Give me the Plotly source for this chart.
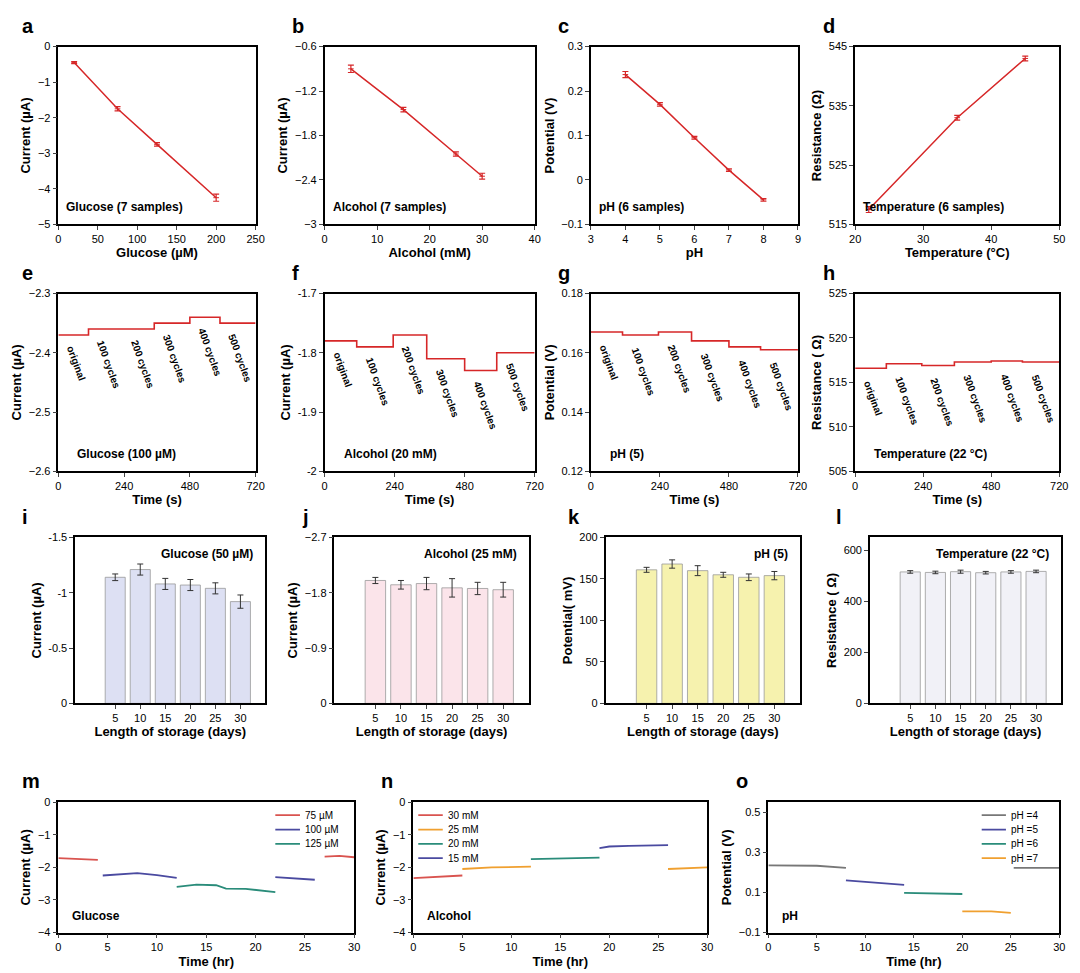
import plotly.graph_objects as go

W, H = 1080, 973
FONT = "Liberation Sans"
RED = "#d62728"

# Row 1 calibration
glu_x = [20, 75, 125, 200]; glu_y = [-0.45, -1.75, -2.75, -4.25]; glu_e = [0.03, 0.06, 0.05, 0.1]
alc_x = [5, 15, 25, 30]; alc_y = [-0.9, -1.45, -2.05, -2.35]; alc_e = [0.05, 0.03, 0.03, 0.04]
ph_x = [4, 5, 6, 7, 8]; ph_y = [0.237, 0.17, 0.095, 0.022, -0.045]; ph_e = [0.007, 0.004, 0.003, 0.003, 0.003]
tmp_x = [22, 35, 45]; tmp_y = [517.5, 533, 543]; tmp_e = [0.5, 0.4, 0.4]

# Row 2 cycling
cyc_labels = ["original", "100 cycles", "200 cycles", "300 cycles", "400 cycles", "500 cycles"]
cyc_t = [0, 110, 235, 350, 480, 590, 720]
cyc_glu = [-2.37, -2.36, -2.36, -2.35, -2.34, -2.35]
cyc_alc = [-1.78, -1.79, -1.77, -1.81, -1.83, -1.80]
cyc_ph = [0.167, 0.166, 0.167, 0.164, 0.162, 0.161]
cyc_tmp = [516.6, 517.1, 516.9, 517.3, 517.4, 517.3]

# Row 3 storage
days = [5, 10, 15, 20, 25, 30]
st_glu = [-1.14, -1.21, -1.08, -1.07, -1.04, -0.92]; st_glu_e = [0.03, 0.05, 0.05, 0.05, 0.05, 0.06]
st_alc = [-2.0, -1.93, -1.95, -1.88, -1.87, -1.85]; st_alc_e = [0.05, 0.07, 0.1, 0.15, 0.1, 0.12]
st_ph = [161, 168, 160, 155, 152, 154]; st_ph_e = [3, 5, 6, 3, 4, 5]
st_tmp = [515, 513, 516, 512, 515, 517]; st_tmp_e = [5, 5, 6, 5, 5, 5]

# Row 4 continuous
m_series = [
    ("75 µM", "#d9534f", [[0, 2, 4], [27, 28.5, 30]], [[-1.72, -1.74, -1.77], [-1.67, -1.65, -1.69]]),
    ("100 µM", "#4a4aa0", [[4.5, 6, 8, 10, 12], [22, 24, 26]], [[-2.25, -2.22, -2.18, -2.24, -2.32], [-2.3, -2.35, -2.38]]),
    ("125 µM", "#2a8c7a", [[12, 14, 16, 17, 19, 22], []], [[-2.6, -2.53, -2.55, -2.65, -2.66, -2.76], []]),
]
n_series = [
    ("30 mM", "#d9534f", [[0, 2.5, 5]], [[-2.33, -2.29, -2.25]]),
    ("25 mM", "#f0a030", [[5, 8, 12], [26, 28, 30]], [[-2.05, -2.0, -1.98], [-2.05, -2.02, -2.0]]),
    ("20 mM", "#2a8c7a", [[12, 15, 19]], [[-1.75, -1.73, -1.7]]),
    ("15 mM", "#4a4aa0", [[19, 20, 22, 26]], [[-1.41, -1.36, -1.34, -1.32]]),
]
o_series = [
    ("pH =4", "#777777", [[0, 5, 8], [25.3, 30]], [[0.235, 0.233, 0.222], [0.222, 0.222]]),
    ("pH =5", "#4a4aa0", [[8, 11, 14]], [[0.16, 0.148, 0.138]]),
    ("pH =6", "#2a8c7a", [[14, 17, 20]], [[0.098, 0.095, 0.092]]),
    ("pH =7", "#f0a030", [[20, 23, 25]], [[0.005, 0.005, -0.002]]),
]

fig = go.Figure()
layout = {}
ann = []
idx = [0]

def px_dom(x0, x1, y0, y1):
    return [x0 / W, x1 / W], [1 - y1 / H, 1 - y0 / H]

def add_axes(box, xr, xt, yr, yt, xtitle, ytitle, letter, xtext=None, ytext=None, lx=None):
    idx[0] += 1
    n = idx[0]
    xd, yd = px_dom(*box)
    common = dict(showline=True, linecolor="black", linewidth=1.5, mirror=True, ticks="outside",
                  ticklen=4, tickwidth=1.2, showgrid=False, zeroline=False,
                  tickfont=dict(size=11, family=FONT, color="black"))
    xa = dict(common, domain=xd, range=xr, tickvals=xt, anchor=f"y{n}",
              title=dict(text=f"<b>{xtitle}</b>", font=dict(size=13, family=FONT), standoff=4))
    ya = dict(common, domain=yd, range=yr, tickvals=yt, anchor=f"x{n}",
              title=dict(text=f"<b>{ytitle}</b>", font=dict(size=13, family=FONT), standoff=4))
    if xtext: xa["ticktext"] = xtext
    if ytext: ya["ticktext"] = ytext
    layout[f"xaxis{n}"] = xa
    layout[f"yaxis{n}"] = ya
    lxp = lx if lx is not None else box[0] - 36
    ann.append(dict(text=f"<b>{letter}</b>", x=lxp / W, y=1 - (box[2] - 8) / H, xref="paper", yref="paper",
                    showarrow=False, xanchor="left", yanchor="bottom", font=dict(size=20, family=FONT, color="black")))
    return f"x{n}", f"y{n}"

def inlabel(xa, ya, text, x, y, anchor="left"):
    ann.append(dict(text=f"<b>{text}</b>", x=x, y=y, xref=xa, yref=ya, showarrow=False, xanchor=anchor,
                    font=dict(size=12, family=FONT, color="black")))

cols = [(45, 245), (315, 528), (585, 795), (853, 1060)]
r1 = (33, 213); r2 = (283, 463); r3 = (530, 698)
lxs = [6, 280, 550, 818]

# Row 1
row1 = [
    (glu_x, glu_y, glu_e, [0, 250], [0, 50, 100, 150, 200, 250], [-5, 0], [-5, -4, -3, -2, -1, 0], "Glucose (µM)", "Current (µA)", "a", "Glucose (7 samples)"),
    (alc_x, alc_y, alc_e, [0, 40], [0, 10, 20, 30, 40], [-3, -0.6], [-3, -2.4, -1.8, -1.2, -0.6], "Alcohol (mM)", "Current (µA)", "b", "Alcohol (7 samples)"),
    (ph_x, ph_y, ph_e, [3, 9], [3, 4, 5, 6, 7, 8, 9], [-0.1, 0.3], [-0.1, 0, 0.1, 0.2, 0.3], "pH", "Potential (V)", "c", "pH (6 samples)"),
    (tmp_x, tmp_y, tmp_e, [20, 50], [20, 30, 40, 50], [515, 545], [515, 525, 535, 545], "Temperature (°C)", "Resistance (Ω)", "d", "Temperature (6 samples)"),
]
for i, (x, y, e, xr, xt, yr, yt, xtl, ytl, L, lab) in enumerate(row1):
    xa, ya = add_axes((cols[i][0], cols[i][1], r1[0], r1[1]), xr, xt, yr, yt, xtl, ytl, L, lx=lxs[i])
    fig.add_trace(go.Scatter(x=x, y=y, xaxis=xa, yaxis=ya, mode="lines+markers", line=dict(color=RED, width=1.5),
                             marker=dict(size=4, color=RED, symbol="line-ew-open"),
                             error_y=dict(array=e, color=RED, width=3, thickness=1.2), showlegend=False))
    inlabel(xa, ya, lab, xr[0] + 0.03 * (xr[1] - xr[0]), yr[0] + 0.1 * (yr[1] - yr[0]))

# Row 2
row2 = [
    (cyc_glu, [-2.6, -2.3], [-2.6, -2.5, -2.4, -2.3], None, "Current (µA)", "e", "Glucose (100 µM)", 0.012),
    (cyc_alc, [-2.0, -1.7], [-2.0, -1.9, -1.8, -1.7], ["-2", "-1.9", "-1.8", "-1.7"], "Current (µA)", "f", "Alcohol (20 mM)", 0.012),
    (cyc_ph, [0.12, 0.18], [0.12, 0.14, 0.16, 0.18], None, "Potential (V)", "g", "pH (5)", 0.003),
    (cyc_tmp, [505, 525], [505, 510, 515, 520, 525], None, "Resistance ( Ω)", "h", "Temperature (22 °C)", 1.0),
]
for i, (v, yr, yt, ytext, ytl, L, lab, off) in enumerate(row2):
    xa, ya = add_axes((cols[i][0], cols[i][1], r2[0], r2[1]), [0, 720], [0, 240, 480, 720], yr, yt, "Time (s)", ytl, L, ytext=ytext, lx=lxs[i])
    fig.add_trace(go.Scatter(x=cyc_t, y=v + [v[-1]], xaxis=xa, yaxis=ya, mode="lines", line=dict(color=RED, width=1.6, shape="hv"),
                             showlegend=False))
    for k, t in enumerate(cyc_labels):
        ann.append(dict(text=f"<b>{t}</b>", x=cyc_t[k] + 15, y=v[k] - off, xref=xa, yref=ya, showarrow=False,
                        textangle=70, xanchor="left", yanchor="top", font=dict(size=10, family=FONT, color="black")))
    inlabel(xa, ya, lab, 60, yr[0] + 0.1 * (yr[1] - yr[0]))

# Row 3
cols3 = [(62, 255), (325, 522), (600, 797), (868, 1062)]
row3 = [
    (st_glu, st_glu_e, [0, -1.5], [-1.5, -1, -0.5, 0], ["-1.5", "-1", "-0.5", "0"], "#dde0f3", "Current (µA)", "i", "Glucose (50 µM)"),
    (st_alc, st_alc_e, [0, -2.7], [-2.7, -1.8, -0.9, 0], None, "#fbe4ea", "Current (µA)", "j", "Alcohol (25 mM)"),
    (st_ph, st_ph_e, [0, 200], [0, 50, 100, 150, 200], None, "#f6f2ae", "Potential( mV)", "k", "pH (5)"),
    (st_tmp, st_tmp_e, [0, 650], [0, 200, 400, 600], None, "#f1f1f7", "Resistance ( Ω)", "l", "Temperature (22 °C)"),
]
lx3 = [6, 290, 560, 832]
for i, (v, e, yr, yt, ytext, col, ytl, L, lab) in enumerate(row3):
    xa, ya = add_axes((cols3[i][0], cols3[i][1], r3[0], r3[1]), [-3, 35], days, yr, yt, "Length of storage (days)", ytl, L, ytext=ytext, lx=lx3[i])
    fig.add_trace(go.Bar(x=days, y=v, xaxis=xa, yaxis=ya, marker=dict(color=col, line=dict(color="#999999", width=0.8)),
                         width=4, error_y=dict(array=e, color="#333333", width=3, thickness=1), showlegend=False))
    inlabel(xa, ya, lab, 33, yr[0] + 0.9 * (yr[1] - yr[0]), anchor="right")

# Row 4
cols4 = [(45, 345), (405, 703), (765, 1060)]
r4 = (798, 930)
lx4 = [6, 370, 730]
row4 = [
    (m_series, [-4, 0], [-4, -3, -2, -1, 0], "Current (µA)", "m", "Glucose"),
    (n_series, [-4, 0], [-4, -3, -2, -1, 0], "Current (µA)", "n", "Alcohol"),
    (o_series, [-0.1, 0.55], [-0.1, 0.1, 0.3, 0.5], "Potential (V)", "o", "pH"),
]
for i, (series, yr, yt, ytl, L, lab) in enumerate(row4):
    xa, ya = add_axes((cols4[i][0], cols4[i][1], r4[0], r4[1]), [0, 30], [0, 5, 10, 15, 20, 25, 30], yr, yt, "Time (hr)", ytl, L, lx=lx4[i])
    for k, (name, c, xs, ys) in enumerate(series):
        X, Y = [], []
        for sx, sy in zip(xs, ys):
            X += sx + [None]; Y += sy + [None]
        fig.add_trace(go.Scatter(x=X, y=Y, xaxis=xa, yaxis=ya, mode="lines", line=dict(color=c, width=1.8), showlegend=False))
        ly = yr[1] - (0.1 + 0.11 * k) * (yr[1] - yr[0])
        if i == 1:
            lx0, lx1, tx = 0.5, 3.0, 3.3
        else:
            lx0, lx1, tx = 22.0, 24.5, 24.8
        fig.add_trace(go.Scatter(x=[lx0, lx1], y=[ly, ly], xaxis=xa, yaxis=ya, mode="lines", line=dict(color=c, width=1.8),
                                 showlegend=False, hoverinfo="skip"))
        ann.append(dict(text=name, x=tx, y=ly, xref=xa, yref=ya, showarrow=False, xanchor="left",
                        font=dict(size=10, family=FONT, color="black")))
    inlabel(xa, ya, lab, 1.2, yr[0] + 0.13 * (yr[1] - yr[0]))

fig.update_layout(**layout)
fig.update_layout(width=W, height=H, margin=dict(l=0, r=0, t=0, b=0), plot_bgcolor="white", paper_bgcolor="white",
                  annotations=ann, font=dict(family=FONT, color="black"), bargap=0.3)
fig.write_html("out.html")
